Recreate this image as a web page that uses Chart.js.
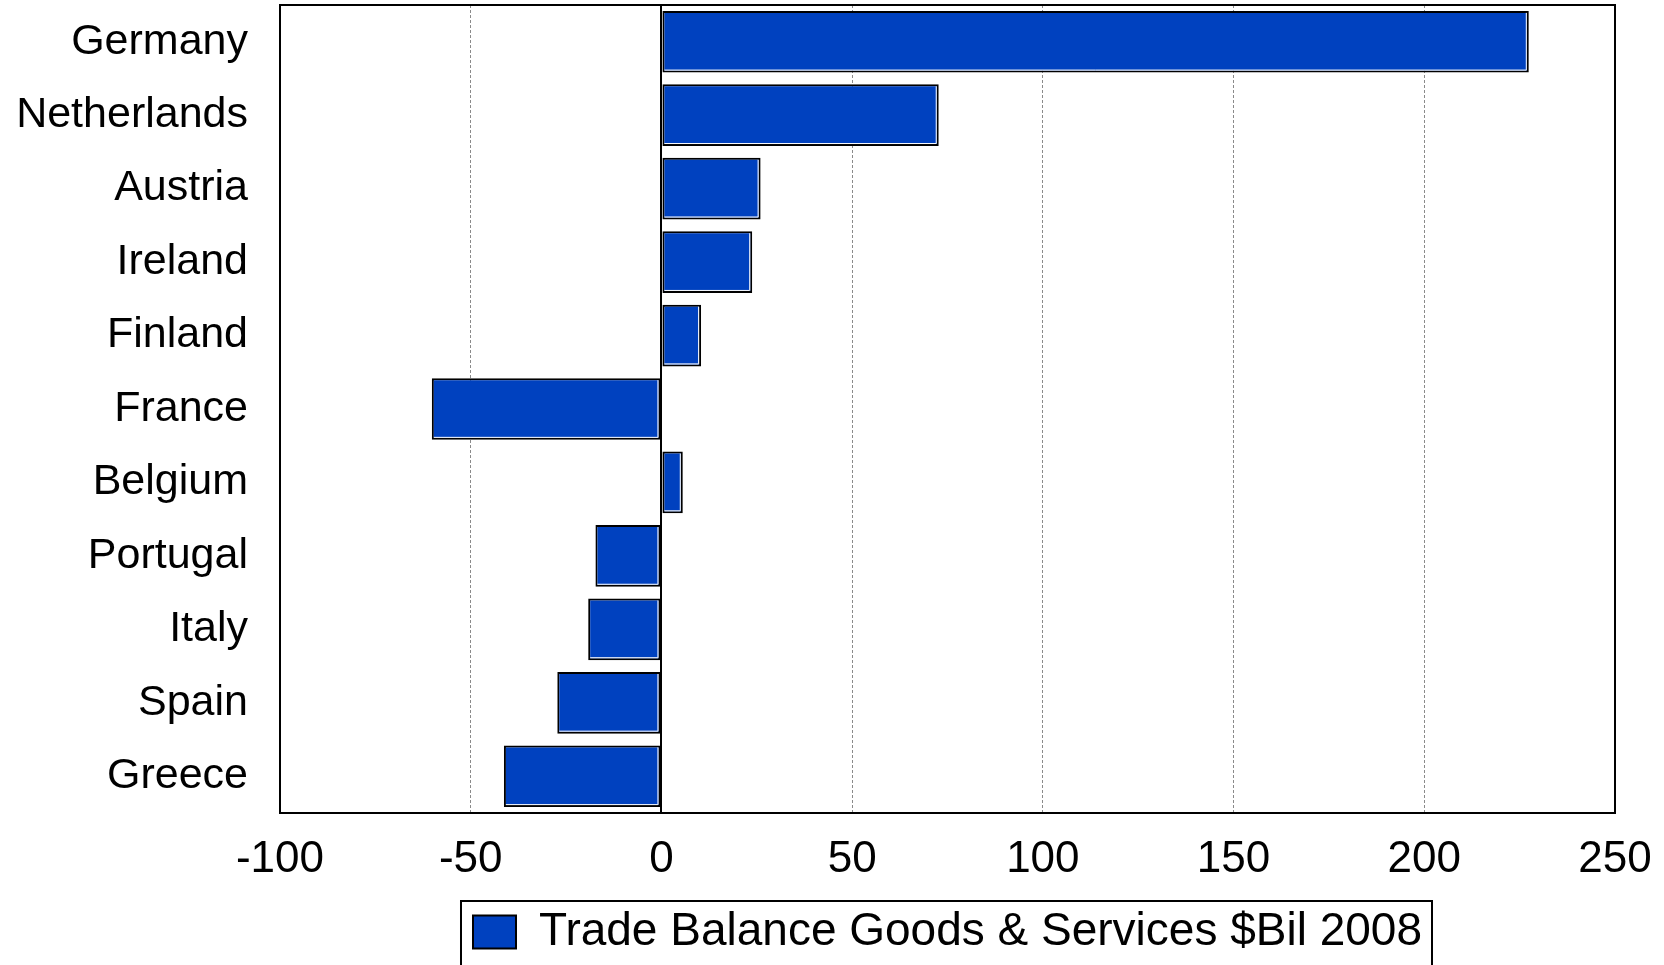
<!DOCTYPE html>
<html>
<head>
<meta charset="utf-8">
<script src="https://cdn.jsdelivr.net/npm/chart.js@4/dist/chart.umd.min.js"></script>
<style>
  html, body { margin: 0; padding: 0; background: #fff; }
  #wrap { width: 1664px; height: 965px; }
</style>
</head>
<body>
<div id="wrap"><canvas id="tradeChart"></canvas></div>
<script>
// trade balance, goods & services, $bn 2008
const countries = [
  'Germany',
  'Netherlands',
  'Austria',
  'Ireland',
  'Finland',
  'France',
  'Belgium',
  'Portugal',
  'Italy',
  'Spain',
  'Greece',
];
const balance = [227.4, 72.7, 26.0, 23.8, 10.4, -60.2, 5.6, -17.3, -19.2, -27.3, -41.3];
const xTicks = [-100, -50, 0, 50, 100, 150, 200, 250];
const seriesName = 'Trade Balance Goods & Services $Bil 2008';

const FONT = '"Liberation Sans", Arial, sans-serif';

// outer frame of the plot, white bevel on the bars, box round the legend
const frame = {
  id: 'frame',
  afterDatasetsDraw(chart) {
    const ctx = chart.ctx;
    const meta = chart.getDatasetMeta(0);
    ctx.save();
    ctx.strokeStyle = '#fff';
    ctx.lineWidth = 1;
    meta.data.forEach(bar => {
      const p = bar.getProps(['x', 'y', 'base', 'height'], true);
      const l = Math.min(p.x, p.base), r = Math.max(p.x, p.base);
      const t = p.y - p.height / 2, b = p.y + p.height / 2;
      ctx.beginPath();
      ctx.moveTo(l + 2, b - 2.5);
      ctx.lineTo(r - 2.5, b - 2.5);
      ctx.lineTo(r - 2.5, t + 2);
      ctx.stroke();
    });
    ctx.restore();
  },
  afterDraw(chart) {
    const { ctx, chartArea: a, legend } = chart;
    ctx.save();
    ctx.strokeStyle = '#000';
    ctx.lineWidth = 2;
    ctx.strokeRect(a.left, a.top, a.right - a.left, a.bottom - a.top);
    const h = legend.legendHitBoxes[0];
    if (h) {
      ctx.strokeRect(h.left - 12, h.top - 8, h.width + 22, chart.height);
    }
    ctx.restore();
  }
};

const data = {
  labels: countries,
  datasets: [{
    label: seriesName,
    data: balance,
    backgroundColor: '#0041BF',
    borderColor: '#000',
    borderWidth: 2,
    borderSkipped: false,
    categoryPercentage: 1,
    barPercentage: 0.84,
  }]
};

const config = {
  type: 'bar',
  data: data,
  plugins: [frame],
  options: {
    indexAxis: 'y',
    responsive: true,
    maintainAspectRatio: false,
    animation: false,
    layout: { padding: { top: 5, right: 49, left: 0, bottom: 0 } },
    plugins: {
      tooltip: { enabled: false },
      legend: {
        position: 'bottom',
        fullSize: false,
        labels: {
          color: '#000',
          font: { family: FONT, size: 46 },
          boxWidth: 43,
          boxHeight: 33,
          padding: 1,
        }
      }
    },
    scales: {
      x: {
        min: -100,
        max: 250,
        afterBuildTicks: s => { s.ticks = xTicks.map(v => ({ value: v })); },
        afterFit: s => { s.height = 95; s.paddingLeft = 0; s.paddingRight = 0; },
        ticks: {
          color: '#000',
          padding: 20,
          maxRotation: 0,
          font: { family: FONT, size: 44 },
        },
        grid: {
          drawTicks: false,
          color: c => (c.tick.value === 0 ? '#000' : (c.tick.value === -100 || c.tick.value === 250 ? 'rgba(0,0,0,0)' : '#8a8a8a')),
          lineWidth: c => (c.tick.value === 0 ? 2 : 1),
        },
        border: {
          color: '#000',
          width: 2,
          dash: c => (c.tick && c.tick.value === 0 ? [] : [3, 2]),
        }
      },
      y: {
        afterFit: s => { s.width = 280; s.paddingTop = 0; s.paddingBottom = 0; },
        ticks: {
          color: '#000',
          padding: 32,
          font: { family: FONT, size: 43 },
        },
        grid: { display: false, drawTicks: false },
        border: { color: '#000', width: 2 }
      }
    }
  }
};

document.addEventListener('DOMContentLoaded', () => {
  new Chart(document.getElementById('tradeChart'), config);
});
</script>
</body>
</html>
